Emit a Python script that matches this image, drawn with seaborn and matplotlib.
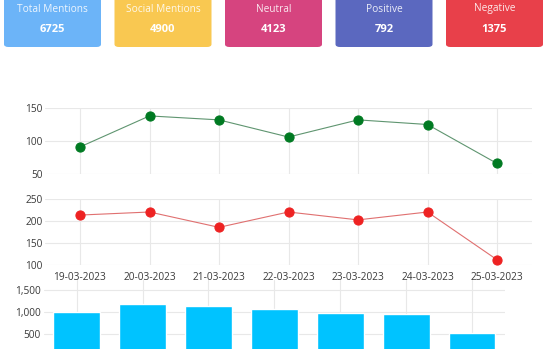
import matplotlib
matplotlib.use("Agg")
import matplotlib.pyplot as plt
from matplotlib.patches import FancyBboxPatch
import seaborn as sns
import pandas as pd

dates = ["19-03-2023", "20-03-2023", "21-03-2023", "22-03-2023",
         "23-03-2023", "24-03-2023", "25-03-2023"]
positive = [91, 138, 132, 106, 132, 125, 66]
negative = [214, 221, 186, 221, 203, 221, 112]
mentions = [1015, 1180, 1140, 1080, 985, 960, 520]

card_titles = ["Total Mentions", "Social Mentions", "Neutral", "Positive", "Negative"]
card_values = ["6725", "4900", "4123", "792", "1375"]
card_colors = ["#6cb4f8", "#f9c851", "#d6447f", "#5b68bf", "#e8404a"]

sns.set_theme(style="whitegrid")
plt.rcParams["font.family"] = ["Open Sans", "DejaVu Sans"]

W, H = 550, 349
fig = plt.figure(figsize=(W / 100, H / 100), dpi=100)

def fx(px):
    return px / W

def fy(py):
    return 1 - py / H

# cards
for i, (t, v, c) in enumerate(zip(card_titles, card_values, card_colors)):
    x0 = 4 + i * 110.5
    w = 97
    y_top, y_bot = -8, 47
    p = FancyBboxPatch((fx(x0), fy(y_bot)), fx(w), (y_bot - y_top) / H,
                       boxstyle="round,pad=0,rounding_size=0.008",
                       transform=fig.transFigure, facecolor=c, edgecolor="none")
    fig.patches.append(p)
    fig.text(fx(x0 + w / 2), fy(9), t, ha="center", va="center",
             color="white", alpha=0.88, fontsize=7.3)
    fig.text(fx(x0 + w / 2), fy(29), v, ha="center", va="center",
             color="white", fontsize=8, fontweight="bold")

df = pd.DataFrame({"date": dates, "positive": positive,
                   "negative": negative, "mentions": mentions})
df["idx"] = range(len(dates))

grid_c = "#e8e8e8"
tick_c = "#3a3a3a"

def style(ax):
    for s in ax.spines.values():
        s.set_visible(False)
    ax.grid(True, color=grid_c, linewidth=0.8)
    ax.tick_params(axis="both", length=0, labelsize=7.3, labelcolor=tick_c, pad=2)
    ax.set_xlabel("")
    ax.set_ylabel("")
    ax.set_facecolor("none")

# positive line chart
ax1 = fig.add_axes([fx(45.25), fy(174), fx(486.5), 66 / H])
sns.lineplot(data=df, x="idx", y="positive", ax=ax1, color="#5f9570",
             linewidth=0.8, marker="o", markersize=6.6,
             markerfacecolor="#007a22", markeredgecolor="#007a22")
ax1.set_xlim(-0.5, 6.5)
ax1.set_ylim(50, 150)
ax1.set_yticks([50, 100, 150])
ax1.set_xticks(range(len(dates)))
ax1.set_xticklabels([])
style(ax1)

# negative line chart
ax2 = fig.add_axes([fx(45.25), fy(265), fx(486.5), 65.7 / H])
sns.lineplot(data=df, x="idx", y="negative", ax=ax2, color="#e07070",
             linewidth=0.8, marker="o", markersize=6.6,
             markerfacecolor="#ee2222", markeredgecolor="#ee2222")
ax2.set_xlim(-0.5, 6.5)
ax2.set_ylim(100, 250)
ax2.set_yticks([100, 150, 200, 250])
ax2.set_xticks(range(len(dates)))
ax2.set_xticklabels(dates)
style(ax2)
ax2.tick_params(axis="x", pad=5)

# bar chart
top_px, zero_px = 280, 356.5
ax3 = fig.add_axes([fx(43.7), fy(zero_px), fx(461.3), (zero_px - top_px) / H])
sns.barplot(data=df, x="date", y="mentions", ax=ax3, color="#00c3ff",
            saturation=1, width=0.71)
ax3.set_ylim(0, 1500 * (zero_px - top_px) / (zero_px - 290))
ax3.set_yticks([500, 1000, 1500])
ax3.set_yticklabels(["500", "1,000", "1,500"])
ax3.set_xlim(-0.5, 6.5)
ax3.set_xticklabels([])
style(ax3)
ax3.set_axisbelow(True)

fig.savefig("out.png", dpi=100)
